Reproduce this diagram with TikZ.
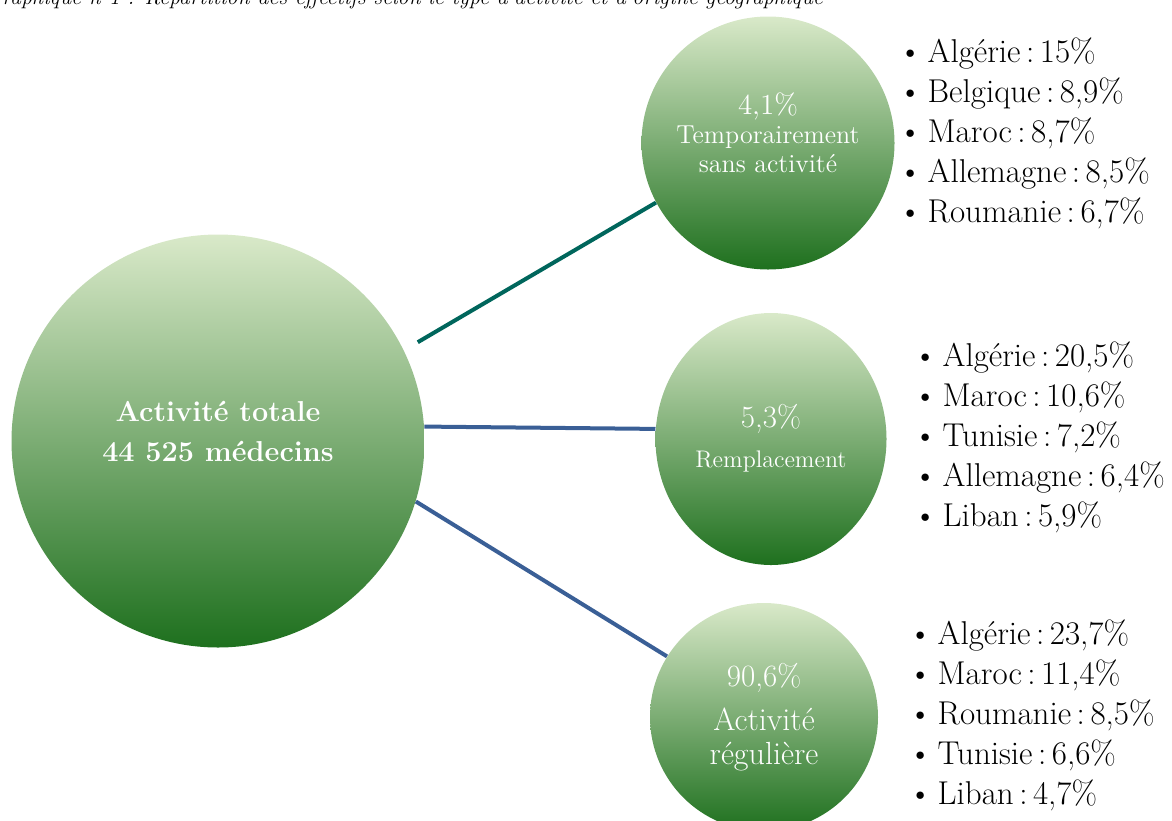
\documentclass[tikz,border=0pt]{standalone}
\usepackage{fontspec}
\usetikzlibrary{shapes.geometric}
\definecolor{medtop}{RGB}{217,233,201}
\definecolor{medmid}{RGB}{160,194,121}
\definecolor{medbot}{RGB}{30,112,30}
\definecolor{medteal}{RGB}{0,102,92}
\definecolor{medblue}{RGB}{58,95,150}

\begin{document}
\begin{tikzpicture}[x=0.5pt,y=-0.5pt,
    bubble/.style={circle, top color=medtop, middle color=medmid, bottom color=medbot, inner sep=0pt},
    bubbletext/.style={text=white, align=center, inner sep=0pt},
    countries/.style={anchor=west, align=left, inner sep=0pt, font=\fontsize{16.5}{20}\selectfont}]
    \path[use as bounding box, clip] (0,0) rectangle (1172,820);

    % Titre (coupe en haut)
    \node[anchor=base west, inner sep=0pt, font=\fontsize{11}{12}\selectfont\itshape] (titre) at (-15,4)
        {Graphique n°1 : Répartition des effectifs selon le type d'activité et d'origine géographique};

    % Cercles
    \node[bubble, minimum size=206.5pt] (total) at (218,441) {};
    \node[bubble, minimum size=126.5pt] (temp) at (768,143) {};
    \node[bubble, ellipse, minimum width=115.5pt, minimum height=126pt] (rempl) at (771,439) {};
    \node[bubble, minimum size=114pt] (regul) at (764,717) {};

    % Liaisons
    \draw[medteal, line width=2pt, shorten <=8pt] (total.26) -- (temp.208);
    \draw[medblue, line width=2pt] (total.4) -- (rempl.175);
    \draw[medblue, line width=2pt] (total.-17) -- (regul.148);

    % Textes des cercles
    \node[bubbletext, font=\fontsize{14.4}{20}\selectfont\bfseries] (totaltxt) at (218,432)
        {Activité totale\\44 525 médecins};
    \node[bubbletext, font=\fontsize{13}{14.5}\selectfont] (temptxt) at (768,133)
        {{\fontsize{14.5}{14.5}\selectfont 4,1\%}\\Temporairement\\sans activité};
    \node[bubbletext, font=\fontsize{12}{14}\selectfont] (rempltxt) at (771,438)
        {{\fontsize{15.5}{14}\selectfont 5,3\%}\\[6pt]Remplacement};
    \node[bubbletext, font=\fontsize{16}{17}\selectfont] (regultxt) at (764,717)
        {{\fontsize{15.5}{15}\selectfont 90,6\%}\\[5pt]Activité\\régulière};

    % Origines geographiques
    \node[countries] (liste1) at (898,133)
        {\textbullet\,Algérie\,:\,15\%\\\textbullet\,Belgique\,:\,8,9\%\\\textbullet\,Maroc\,:\,8,7\%\\\textbullet\,Allemagne\,:\,8,5\%\\\textbullet\,Roumanie\,:\,6,7\%};
    \node[countries] (liste2) at (913,437)
        {\textbullet\,Algérie\,:\,20,5\%\\\textbullet\,Maroc\,:\,10,6\%\\\textbullet\,Tunisie\,:\,7,2\%\\\textbullet\,Allemagne\,:\,6,4\%\\\textbullet\,Liban\,:\,5,9\%};
    \node[countries] (liste3) at (908,715)
        {\textbullet\,Algérie\,:\,23,7\%\\\textbullet\,Maroc\,:\,11,4\%\\\textbullet\,Roumanie\,:\,8,5\%\\\textbullet\,Tunisie\,:\,6,6\%\\\textbullet\,Liban\,:\,4,7\%};
\end{tikzpicture}
\end{document}
